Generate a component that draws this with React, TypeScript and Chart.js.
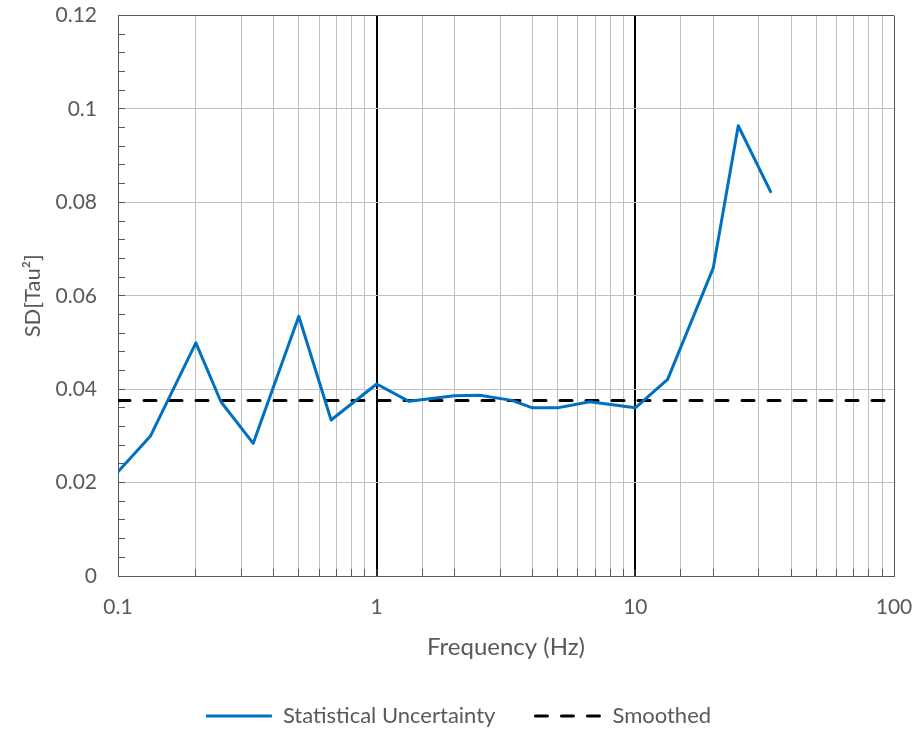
import React, { useEffect, useRef } from "react";
import { Chart, registerables } from "chart.js";

Chart.register(...registerables);

// Frequencies (Hz)
const frequencies: number[] = [
  0.1, 0.1333, 0.2, 0.25, 0.3333, 0.5, 0.6667, 1, 1.3333, 2, 2.5, 3.3333, 4, 5,
  6.6667, 10, 13.333, 20, 25, 33.333,
];
// SD[Tau^2] statistical uncertainty
const uncertainty: number[] = [
  0.0223, 0.0299, 0.0499, 0.0373, 0.0284, 0.0556, 0.0334, 0.0411, 0.0374,
  0.0386, 0.0387, 0.0376, 0.036, 0.036, 0.0373, 0.036, 0.0421, 0.0659, 0.0964,
  0.0823,
];
// Smoothed level
const smoothedX: number[] = [0.1, 100];
const smoothedY: number[] = [0.0376, 0.0376];

const seriesNames: string[] = ["Statistical Uncertainty", "Smoothed"];
const xTitle = "Frequency (Hz)";
const yTitle = "SD[Tau\u00B2]";

const FONT = "Lato";
const TEXT = "#595959";
const AXIS = "#595959";
const GRID = "#bfbfbf";

const isDecade = (v: number) =>
  Math.abs(Math.log10(v) - Math.round(Math.log10(v))) < 1e-9;

export default function App() {
  const ref = useRef<HTMLCanvasElement | null>(null);

  useEffect(() => {
    if (!ref.current) return;
    const chart = new Chart(ref.current, {
      type: "line",
      data: {
        datasets: [
          {
            label: seriesNames[0],
            data: frequencies.map((x, i) => ({ x, y: uncertainty[i] })),
            borderColor: "#0070C0",
            backgroundColor: "#0070C0",
            borderWidth: 3,
            pointRadius: 0,
            tension: 0,
            borderCapStyle: "round",
            borderJoinStyle: "round",
          },
          {
            label: seriesNames[1],
            data: smoothedX.map((x, i) => ({ x, y: smoothedY[i] })),
            borderColor: "#000000",
            backgroundColor: "#000000",
            borderWidth: 3,
            borderDash: [12, 14],
            borderCapStyle: "round",
            pointRadius: 0,
          },
        ],
      },
      options: {
        responsive: false,
        animation: false,
        layout: { padding: { left: 0, right: 0, top: 15.5, bottom: -7 } },
        plugins: {
          tooltip: { enabled: false },
          legend: {
            position: "bottom",
            labels: {
              usePointStyle: true,
              pointStyle: "line",
              pointStyleWidth: 66,
              padding: 40,
              color: TEXT,
              font: { family: FONT, size: 22 },
              generateLabels: (c: any) => {
                const items = Chart.defaults.plugins.legend.labels.generateLabels(c);
                return items.map((it: any) => {
                  const ds: any = c.data.datasets[it.datasetIndex];
                  return {
                    ...it,
                    pointStyle: "line",
                    strokeStyle: ds.borderColor,
                    fillStyle: ds.borderColor,
                    lineWidth: ds.borderWidth,
                    lineDash: ds.borderDash || [],
                    lineCap: ds.borderDash ? "round" : "butt",
                    fontColor: TEXT,
                  };
                });
              },
            },
          },
        },
        scales: {
          x: {
            type: "logarithmic",
            min: 0.1,
            max: 100,
            afterFit: (s: any) => {
              s.height = 89;
              s.paddingLeft = 0;
              s.paddingRight = 0;
            },
            border: { color: AXIS, width: 1 },
            grid: {
              color: (c: any) => {
                const v = c.tick?.value;
                if (v === undefined) return GRID;
                if (Math.abs(v - 1) < 1e-9 || Math.abs(v - 10) < 1e-9) return "#000000";
                if (Math.abs(v - 0.1) < 1e-9 || Math.abs(v - 100) < 1e-9) return AXIS;
                return GRID;
              },
              lineWidth: (c: any) => {
                const v = c.tick?.value;
                if (v !== undefined && (Math.abs(v - 1) < 1e-9 || Math.abs(v - 10) < 1e-9)) return 2;
                return 1;
              },
              tickLength: -7,
              tickColor: AXIS,
              tickWidth: 1,
            },
            ticks: {
              autoSkip: false,
              maxRotation: 0,
              padding: 26,
              color: TEXT,
              font: { family: FONT, size: 21 },
              callback: (v: any) => (isDecade(Number(v)) ? String(Number(v)) : ""),
            },
            title: {
              display: true,
              text: xTitle,
              color: TEXT,
              font: { family: FONT, size: 24 },
              padding: { top: 0, bottom: 3 },
            },
          },
          y: {
            type: "linear",
            min: 0,
            max: 0.12,
            afterFit: (s: any) => {
              s.width = 118;
              s.paddingTop = 0;
              s.paddingBottom = 0;
            },
            border: { color: AXIS, width: 1 },
            grid: {
              color: (c: any) => {
                const v = c.tick?.value;
                if (v === undefined) return "rgba(0,0,0,0)";
                const k = Math.round(v * 1000);
                if (k === 0 || k === 120) return AXIS;
                if (k % 20 === 0) return GRID;
                return "rgba(0,0,0,0)";
              },
              lineWidth: 1,
              tickLength: -7,
              tickColor: AXIS,
              tickWidth: 1,
            },
            ticks: {
              stepSize: 0.004,
              autoSkip: false,
              padding: 28,
              color: TEXT,
              font: { family: FONT, size: 21 },
              callback: (v: any) => {
                const k = Math.round(Number(v) * 1000);
                if (k % 20 !== 0) return "";
                return String(Number((k / 1000).toFixed(3)));
              },
            },
            title: {
              display: true,
              text: yTitle,
              color: TEXT,
              font: { family: FONT, size: 22 },
              padding: { top: 20, bottom: 0 },
            },
          },
          yr: {
            type: "linear",
            position: "right",
            display: true,
            afterFit: (s: any) => {
              s.width = 23;
              s.paddingTop = 0;
              s.paddingBottom = 0;
            },
            border: { display: false },
            grid: { display: false, drawTicks: false },
            ticks: { display: false },
          },
        },
      },
    } as any);
    return () => chart.destroy();
  }, []);

  return (
    <div style={{ position: "fixed", left: 0, top: 0, width: 917, height: 730, background: "#fff" }}>
      <canvas ref={ref} width={917} height={730} style={{ display: "block" }} />
    </div>
  );
}
